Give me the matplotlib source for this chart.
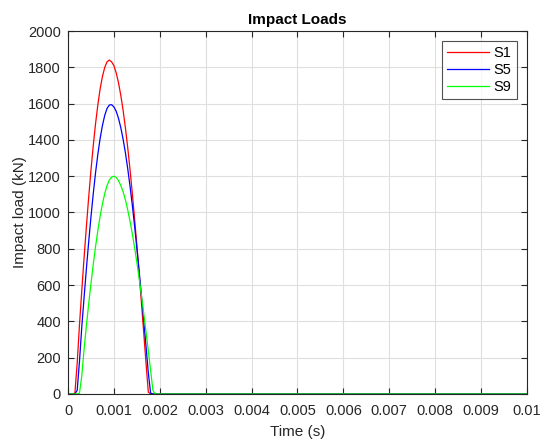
import numpy as np
import matplotlib
matplotlib.use('Agg')
import matplotlib.pyplot as plt
from matplotlib.ticker import FixedLocator

plt.rcParams['font.family'] = ['Liberation Sans', 'DejaVu Sans']

# time grid in ms, converted to s below
t_ms = [0, 0.10, 0.15, 0.20, 0.25, 0.30, 0.35, 0.40, 0.45, 0.50, 0.55, 0.60,
        0.65, 0.70, 0.75, 0.80, 0.85, 0.90, 0.95, 1.00, 1.05, 1.10, 1.15, 1.20,
        1.25, 1.30, 1.35, 1.40, 1.45, 1.50, 1.55, 1.60, 1.65, 1.70, 1.75, 1.80,
        1.85, 1.90, 10.0]

s1 = [0, 0, 5, 170, 380, 569, 750, 920, 1082, 1232, 1368, 1489,
      1593, 1681, 1749, 1799, 1830, 1840, 1830, 1809, 1769, 1715, 1646, 1564,
      1468, 1360, 1240, 1108, 968, 820, 664, 502, 338, 170, 10, 0,
      0, 0, 0]
s5 = [0, 0, 0, 20, 180, 369, 531, 688, 836, 975, 1103, 1219,
      1320, 1408, 1479, 1535, 1573, 1592, 1594, 1582, 1558, 1519, 1468, 1405,
      1330, 1244, 1148, 1043, 928, 805, 677, 542, 404, 262, 117, 5,
      0, 0, 0]
s9 = [0, 0, 0, 0, 5, 100, 245, 375, 495, 608, 714, 812,
      900, 980, 1047, 1104, 1148, 1178, 1195, 1200, 1193, 1176, 1149, 1115,
      1070, 1016, 954, 885, 808, 726, 637, 543, 444, 342, 238, 130,
      20, 0, 0]

series_names = ['S1', 'S5', 'S9']
series_colors = ['#ff0000', '#0000ff', '#00ff00']

x_ticks = [0, 0.001, 0.002, 0.003, 0.004, 0.005, 0.006, 0.007, 0.008, 0.009, 0.01]
x_labels = ['0', '0.001', '0.002', '0.003', '0.004', '0.005', '0.006', '0.007', '0.008', '0.009', '0.01']
y_ticks = [0, 200, 400, 600, 800, 1000, 1200, 1400, 1600, 1800, 2000]

t = np.array(t_ms) / 1000.0

fig = plt.figure(figsize=(5.41, 4.41), dpi=100)
ax = fig.add_axes([0.1257, 0.1066, 0.8483, 0.8231])

for vals, name, c in zip([s1, s5, s9], series_names, series_colors):
    ax.plot(t, vals, color=c, lw=0.9, label=name)

ax.set_xlim(0, 0.01)
ax.set_ylim(0, 2000)
ax.xaxis.set_major_locator(FixedLocator(x_ticks))
ax.set_xticklabels(x_labels)
ax.yaxis.set_major_locator(FixedLocator(y_ticks))

ax.grid(True, color='#dfdfdf', lw=0.8)
ax.set_axisbelow(True)
for sp in ax.spines.values():
    sp.set_color('#262626')
    sp.set_linewidth(0.8)
ax.tick_params(direction='in', length=4, width=0.8, color='#262626',
               top=True, right=True, labelsize=10.5, labelcolor='#262626')
ax.tick_params(axis='x', pad=7)
ax.tick_params(axis='y', pad=5)

ax.set_xlabel('Time (s)', fontsize=11, color='#262626', labelpad=5)
ax.set_ylabel('Impact load (kN)', fontsize=11, color='#262626', labelpad=1)
ax.set_title('Impact Loads', fontsize=11, fontweight='bold', color='black', pad=5)

leg = ax.legend(loc='upper right', fontsize=10.5, frameon=True, fancybox=False,
                edgecolor='#262626', borderpad=0.35, labelspacing=0.2,
                handlelength=2.9, handletextpad=0.3, borderaxespad=0.7)
leg.get_frame().set_linewidth(0.8)

fig.savefig('out.png', dpi=100)
